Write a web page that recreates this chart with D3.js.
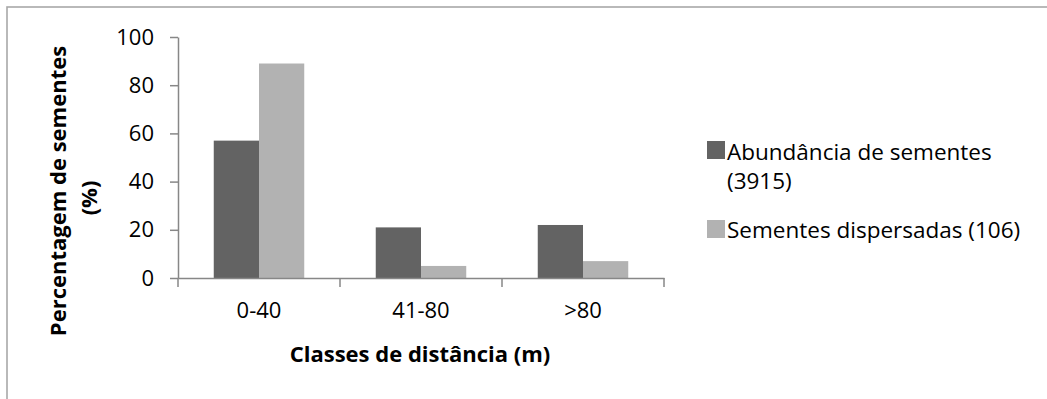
<!DOCTYPE html>
<html>
<head>
<meta charset="utf-8">
<script src="https://cdn.jsdelivr.net/npm/d3@7"></script>
<style>
  html, body { margin: 0; padding: 0; background: #fff; }
  svg { display: block; }
  text { font-family: "Open Sans", Lato, sans-serif; fill: #000; }
</style>
</head>
<body>
<svg id="chart" width="1047" height="399"></svg>
<script>
const categories = ["0-40", "41-80", ">80"];
const seriesNames = ["Abundância de sementes", "Sementes dispersadas (106)"];
const abundancia = [57, 21, 22];
const dispersadas = [89, 5, 7];
const yTicks = [0, 20, 40, 60, 80, 100];
const colors = ["#636363", "#b2b2b2"];

(function () {
const FONT = "'Open Sans', Lato, sans-serif";
const svg = d3.select("#chart");
svg.append("rect").attr("width", 1047).attr("height", 399).attr("fill", "#fff");
svg.append("rect").attr("x", 7).attr("y", 7).attr("width", 1100).attr("height", 500)
  .attr("fill", "none").attr("stroke", "#a8a8a8").attr("stroke-width", 1.6);

const pLeft = 178, pRight = 664, pTop = 37, pBottom = 278;
const y = d3.scaleLinear().domain([0, 100]).range([pBottom, pTop]);
const x0 = d3.scaleBand().domain(categories).range([pLeft, pRight]).padding(0);
const x1 = d3.scaleBand().domain([0, 1]).range([0, x0.bandwidth()]).paddingInner(0).paddingOuter(0.79);

const data = categories.map((c, i) => ({ c, vals: [abundancia[i], dispersadas[i]] }));

// bars
const g = svg.append("g");
data.forEach(d => {
  d.vals.forEach((v, j) => {
    g.append("rect")
      .attr("x", x0(d.c) + x1(j))
      .attr("y", y(v))
      .attr("width", x1.bandwidth())
      .attr("height", y(0) - y(v))
      .attr("fill", colors[j]);
  });
});

const axisColor = "#878787";
// y axis
const yAxis = svg.append("g").attr("transform", `translate(${pLeft},0)`)
  .call(d3.axisLeft(y).tickValues(yTicks).tickSize(8).tickSizeOuter(0).tickPadding(16));
yAxis.select(".domain").attr("stroke", axisColor).attr("stroke-width", 1.5);
yAxis.selectAll(".tick line").attr("stroke", axisColor).attr("stroke-width", 1.5);
yAxis.selectAll(".tick text").attr("font-size", 22).attr("font-family", FONT).attr("fill", "#000");

// x axis
const xAxis = svg.append("g").attr("transform", `translate(0,${pBottom})`)
  .call(d3.axisBottom(x0).tickSize(0).tickSizeOuter(0).tickPadding(24));
xAxis.select(".domain").attr("stroke", axisColor).attr("stroke-width", 1.5);
xAxis.selectAll(".tick text").attr("font-size", 22).attr("font-family", FONT).attr("fill", "#000");
const bounds = categories.map(c => x0(c)).concat([x0(categories[categories.length - 1]) + x0.bandwidth()]);
svg.append("g").selectAll("line").data(bounds).join("line")
  .attr("x1", d => d).attr("x2", d => d).attr("y1", pBottom).attr("y2", pBottom + 9)
  .attr("stroke", axisColor).attr("stroke-width", 1.5);

// axis titles
svg.append("text").attr("x", 420).attr("y", 362).attr("text-anchor", "middle")
  .attr("font-size", 22).attr("font-weight", "bold").text("Classes de distância (m)");
svg.append("text").attr("transform", "translate(66,191) rotate(-90)").attr("text-anchor", "middle")
  .attr("font-size", 22).attr("font-weight", "bold").text("Percentagem de sementes");
svg.append("text").attr("transform", "translate(97,198) rotate(-90)").attr("text-anchor", "middle")
  .attr("font-size", 22).attr("font-weight", "bold").text("(%)");

// legend
const lg = svg.append("g");
lg.append("rect").attr("x", 707).attr("y", 141).attr("width", 18).attr("height", 18).attr("fill", colors[0]);
lg.append("text").attr("x", 727).attr("y", 160).attr("font-size", 22.5).text(seriesNames[0]);
lg.append("text").attr("x", 727).attr("y", 189).attr("font-size", 22.5).text("(3915)");
lg.append("rect").attr("x", 707).attr("y", 220).attr("width", 18).attr("height", 18).attr("fill", colors[1]);
lg.append("text").attr("x", 727).attr("y", 238).attr("font-size", 22.5).text(seriesNames[1]);
})();
</script>
</body>
</html>
